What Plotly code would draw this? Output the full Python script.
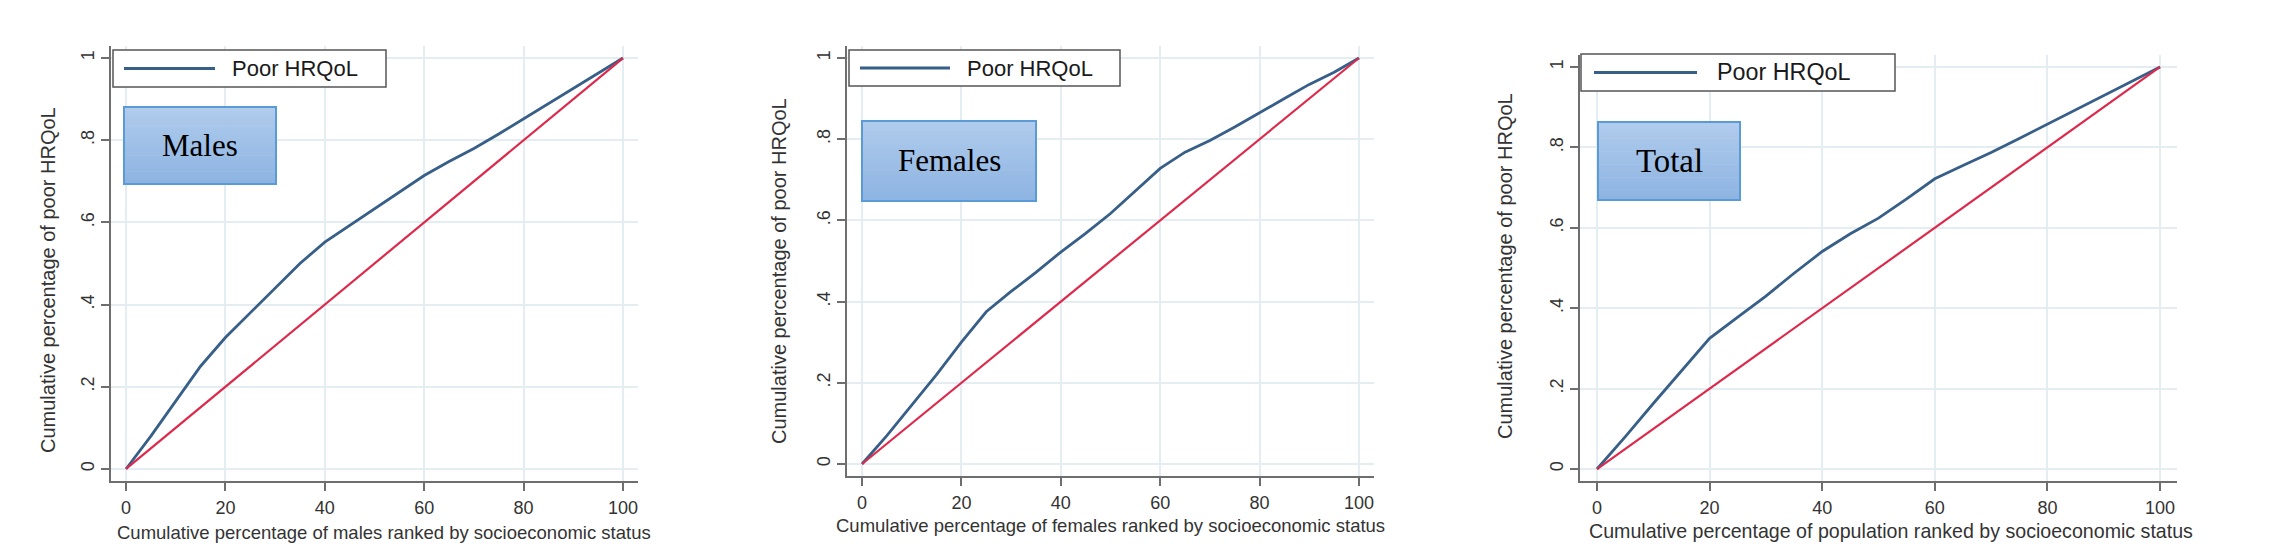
import plotly.graph_objects as go

W, H = 2295, 557

# ---------------- data ----------------
pct = [0, 5, 10, 15, 20, 25, 30, 35, 40, 45, 50, 55, 60, 65, 70, 75, 80, 85, 90, 95, 100]
males = [0, 0.08, 0.165, 0.25, 0.32, 0.38, 0.44, 0.50, 0.552, 0.592, 0.633, 0.674, 0.714,
         0.748, 0.78, 0.815, 0.852, 0.888, 0.925, 0.962, 1.0]
females = [0, 0.07, 0.145, 0.22, 0.30, 0.375, 0.425, 0.472, 0.522, 0.568, 0.617, 0.672, 0.728,
           0.768, 0.797, 0.83, 0.866, 0.9, 0.935, 0.965, 1.0]
total = [0, 0.08, 0.163, 0.245, 0.325, 0.378, 0.43, 0.487, 0.541, 0.585, 0.624, 0.672, 0.722,
         0.755, 0.787, 0.822, 0.858, 0.893, 0.928, 0.964, 1.0]
eq_x = [0, 100]
eq_y = [0, 1]

x_ticks = [0, 20, 40, 60, 80, 100]
x_ticktext = ["0", "20", "40", "60", "80", "100"]
y_ticks = [0, 0.2, 0.4, 0.6, 0.8, 1.0]
y_ticktext = ["0", ".2", ".4", ".6", ".8", "1"]

series_name = "Poor HRQoL"
y_title = "Cumulative percentage of poor HRQoL"
panel_labels = ["Males", "Females", "Total"]
x_titles = [
    "Cumulative percentage of males ranked by socioeconomic status",
    "Cumulative percentage of females ranked by socioeconomic status",
    "Cumulative percentage of population ranked by socioeconomic status",
]
series = [males, females, total]

# ---------------- layout geometry (pixels) ----------------
panels = [
    dict(x=(111.1, 637.9), y=(45.7, 481.3), leg=(113, 386, 50, 87), legline=(124, 215), legtext=230,
         box=(124, 276, 107, 184), ytit=(48, 280), xtit=(384, 532), fs=1.0),
    dict(x=(847.1, 1373.9), y=(45.8, 476.2), leg=(849, 1120, 50, 86), legline=(860, 950), legtext=965,
         box=(862, 1036, 121, 201), ytit=(779, 271), xtit=(1110, 525), fs=1.0),
    dict(x=(1580.1, 2176.9), y=(54.9, 481.1), leg=(1581, 1895, 54, 91), legline=(1594, 1697), legtext=1715,
         box=(1598, 1740, 122, 200), ytit=(1505, 266), xtit=(1891, 531), fs=1.06),
]

def fx(p):
    return p / W

def fy(p):
    return 1 - p / H

BLUE = "#375f88"
RED = "#dc2a4d"
GRID = "#e4edf1"
AXIS = "#6e6e6e"
SANS = "Liberation Sans, Arial, sans-serif"
SERIF = "Liberation Serif, Times New Roman, serif"

fig = go.Figure()
shapes = []
annotations = []

for i, (p, vals) in enumerate(zip(panels, series)):
    n = "" if i == 0 else str(i + 1)
    xa, ya = "x" + n, "y" + n
    fig.add_trace(go.Scatter(x=pct, y=vals, mode="lines", name=series_name,
                             line=dict(color=BLUE, width=2.8), xaxis=xa, yaxis=ya,
                             showlegend=False))
    fig.add_trace(go.Scatter(x=eq_x, y=eq_y, mode="lines", name="Equality",
                             line=dict(color=RED, width=2.2), xaxis=xa, yaxis=ya,
                             showlegend=False))
    fs = p["fs"]
    fig.layout["xaxis" + n] = dict(
        domain=[fx(p["x"][0]), fx(p["x"][1])], range=[-3, 103], anchor=ya,
        tickvals=x_ticks, ticktext=x_ticktext, ticks="outside", ticklen=8, tickwidth=1.5,
        tickcolor=AXIS, showline=True, linecolor=AXIS, linewidth=2, showgrid=True,
        gridcolor=GRID, gridwidth=1.5, zeroline=False, ticklabelstandoff=1,
        tickfont=dict(family=SANS, size=18, color="#333333"), fixedrange=True)
    fig.layout["yaxis" + n] = dict(
        domain=[fy(p["y"][1]), fy(p["y"][0])], range=[-0.03, 1.03], anchor=xa,
        tickvals=y_ticks, ticktext=y_ticktext, ticks="outside", ticklen=8, tickwidth=1.5,
        tickcolor=AXIS, showline=True, linecolor=AXIS, linewidth=2, showgrid=True,
        gridcolor=GRID, gridwidth=1.5, zeroline=False, tickangle=-90,
        tickfont=dict(family=SANS, size=18, color="#333333"), fixedrange=True)

    # axis titles
    annotations.append(dict(text=x_titles[i], x=fx(p["xtit"][0]), y=fy(p["xtit"][1]),
                            xref="paper", yref="paper", showarrow=False,
                            xanchor="center", yanchor="middle",
                            font=dict(family=SANS, size=18.5 * fs, color="#333333")))
    annotations.append(dict(text=y_title, x=fx(p["ytit"][0]), y=fy(p["ytit"][1]),
                            xref="paper", yref="paper", showarrow=False, textangle=-90,
                            xanchor="center", yanchor="middle",
                            font=dict(family=SANS, size=20, color="#333333")))

    # legend box
    x0, x1, y0, y1 = p["leg"]
    shapes.append(dict(type="rect", xref="paper", yref="paper", x0=fx(x0), x1=fx(x1),
                       y0=fy(y1), y1=fy(y0), line=dict(color="#555555", width=1.5),
                       fillcolor="white", layer="above"))
    ly = (y0 + y1) / 2
    shapes.append(dict(type="line", xref="paper", yref="paper", x0=fx(p["legline"][0]),
                       x1=fx(p["legline"][1]), y0=fy(ly), y1=fy(ly),
                       line=dict(color=BLUE, width=2.8), layer="above"))
    annotations.append(dict(text=series_name, x=fx(p["legtext"]), y=fy(ly), xref="paper",
                            yref="paper", showarrow=False, xanchor="left", yanchor="middle",
                            font=dict(family=SANS, size=22 * fs, color="#1a1a1a")))

    # label box with vertical gradient
    bx0, bx1, by0, by1 = p["box"]
    nstrip = 24
    top = (176, 203, 236)
    bot = (141, 180, 226)
    for k in range(nstrip):
        t = k / (nstrip - 1)
        c = tuple(int(round(top[j] + (bot[j] - top[j]) * t)) for j in range(3))
        sy0 = by0 + (by1 - by0) * k / nstrip
        sy1 = by0 + (by1 - by0) * (k + 1) / nstrip + 0.6
        shapes.append(dict(type="rect", xref="paper", yref="paper", x0=fx(bx0), x1=fx(bx1),
                           y0=fy(min(sy1, by1)), y1=fy(sy0), line=dict(width=0),
                           fillcolor="rgb(%d,%d,%d)" % c, layer="above"))
    shapes.append(dict(type="rect", xref="paper", yref="paper", x0=fx(bx0), x1=fx(bx1),
                       y0=fy(by1), y1=fy(by0), line=dict(color="#5b9bd5", width=2),
                       fillcolor="rgba(0,0,0,0)", layer="above"))
    annotations.append(dict(text=panel_labels[i], x=fx((bx0 + bx1) / 2), y=fy((by0 + by1) / 2),
                            xref="paper", yref="paper", showarrow=False,
                            xanchor="center", yanchor="middle",
                            font=dict(family=SERIF, size=31 * fs, color="black")))

fig.update_layout(
    width=W, height=H, margin=dict(l=0, r=0, t=0, b=0),
    paper_bgcolor="white", plot_bgcolor="white",
    shapes=shapes, annotations=annotations, showlegend=False,
)

fig.write_html("out.html", config={"displayModeBar": False})
